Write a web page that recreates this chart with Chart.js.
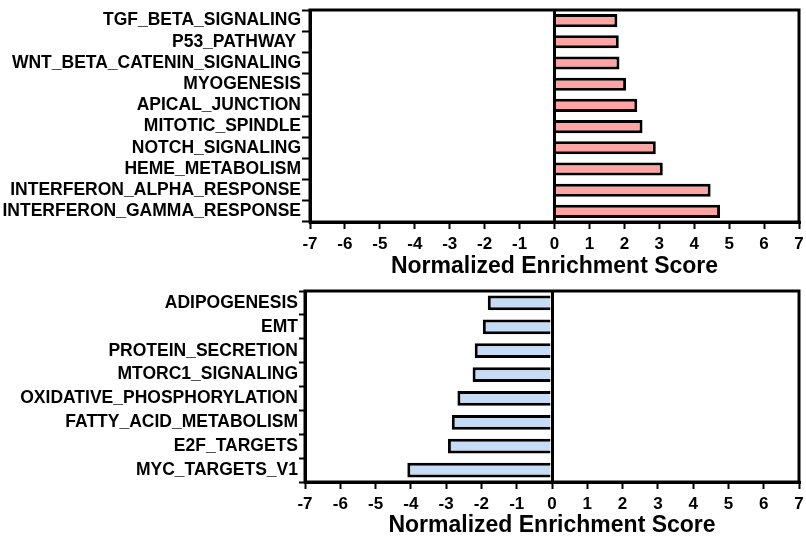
<!DOCTYPE html>
<html><head><meta charset="utf-8">
<script src="https://cdn.jsdelivr.net/npm/chart.js@4/dist/chart.umd.min.js"></script>
<style>
html,body{margin:0;padding:0;background:#fff;}
#w1{position:absolute;left:0;top:0;width:806px;height:280px;}
#w2{position:absolute;left:0;top:280px;width:806px;height:257px;}
</style></head><body>
<div id="w1"><canvas id="c1"></canvas></div>
<div id="w2"><canvas id="c2"></canvas></div>
<script>
// ---- data ----
const upCategories = ['TGF_BETA_SIGNALING','P53_PATHWAY ','WNT_BETA_CATENIN_SIGNALING','MYOGENESIS','APICAL_JUNCTION','MITOTIC_SPINDLE','NOTCH_SIGNALING','HEME_METABOLISM','INTERFERON_ALPHA_RESPONSE','INTERFERON_GAMMA_RESPONSE'];
const upScores = [1.80, 1.84, 1.86, 2.05, 2.37, 2.52, 2.90, 3.10, 4.47, 4.74];
const downCategories = ['ADIPOGENESIS','EMT','PROTEIN_SECRETION','MTORC1_SIGNALING','OXIDATIVE_PHOSPHORYLATION','FATTY_ACID_METABOLISM','E2F_TARGETS','MYC_TARGETS_V1'];
const downScores = [-1.82, -1.96, -2.19, -2.25, -2.68, -2.84, -2.95, -4.10];
const xMin = -7, xMax = 7, xStep = 1;
const xAxisTitle = 'Normalized Enrichment Score';

const FONT = '"Liberation Sans", Arial, Helvetica, sans-serif';

const boxPlugin = {
  id: 'box',
  afterDraw(chart) {
    const a = chart.chartArea, ctx = chart.ctx;
    ctx.save();
    ctx.strokeStyle = '#000';
    ctx.lineWidth = 3;
    ctx.strokeRect(a.left, a.top, a.right - a.left, a.bottom - a.top);
    ctx.restore();
  }
};

function makeChart(id, labels, values, fill, cfg) {
  return new Chart(document.getElementById(id), {
    type: 'bar',
    data: {
      labels: labels,
      datasets: [{
        data: values,
        backgroundColor: fill,
        borderColor: '#000',
        borderWidth: 3,
        barPercentage: 0.62,
        categoryPercentage: 1.0
      }]
    },
    options: {
      indexAxis: 'y',
      responsive: true,
      maintainAspectRatio: false,
      animation: false,
      devicePixelRatio: 1,
      layout: { padding: cfg.padding },
      plugins: { legend: { display: false }, tooltip: { enabled: false } },
      scales: {
        x: {
          type: 'linear',
          min: xMin, max: xMax,
          z: 1,
          afterFit: s => { s.height = cfg.xHeight; s.paddingLeft = 0; s.paddingRight = 0; },
          ticks: {
            stepSize: xStep,
            color: '#000',
            padding: 6.5,
            font: { family: FONT, size: 17, weight: 'bold', lineHeight: 1 }
          },
          grid: {
            drawOnChartArea: true,
            color: c => (c.tick && c.tick.value === 0) ? '#000' : 'rgba(0,0,0,0)',
            lineWidth: 3,
            tickColor: '#000',
            tickWidth: 2,
            tickLength: 7
          },
          border: { display: true, color: '#000', width: 3 },
          title: {
            display: true,
            text: xAxisTitle,
            color: '#000',
            padding: 0,
            font: { family: FONT, size: 23, weight: 'bold', lineHeight: 1 }
          }
        },
        y: {
          afterFit: s => { s.width = cfg.yWidth; s.paddingTop = 0; s.paddingBottom = 0; },
          ticks: {
            color: '#000',
            padding: 1,
            font: { family: FONT, size: 17.5, weight: 'bold', lineHeight: 1 }
          },
          grid: {
            drawOnChartArea: false,
            tickColor: '#000',
            tickWidth: 2,
            tickLength: cfg.yTick
          },
          border: { display: true, color: '#000', width: 3 }
        }
      }
    },
    plugins: [boxPlugin]
  });
}

makeChart('c1', upCategories, upScores, '#FFA3A3',
  { padding: { top: 10, right: 7, bottom: 2, left: 0 }, xHeight: 56, yWidth: 310, yTick: 8 });
makeChart('c2', downCategories, downScores, '#C6DCF6',
  { padding: { top: 11, right: 7, bottom: 0, left: 0 }, xHeight: 55, yWidth: 305, yTick: 6 });
</script>
</body></html>
